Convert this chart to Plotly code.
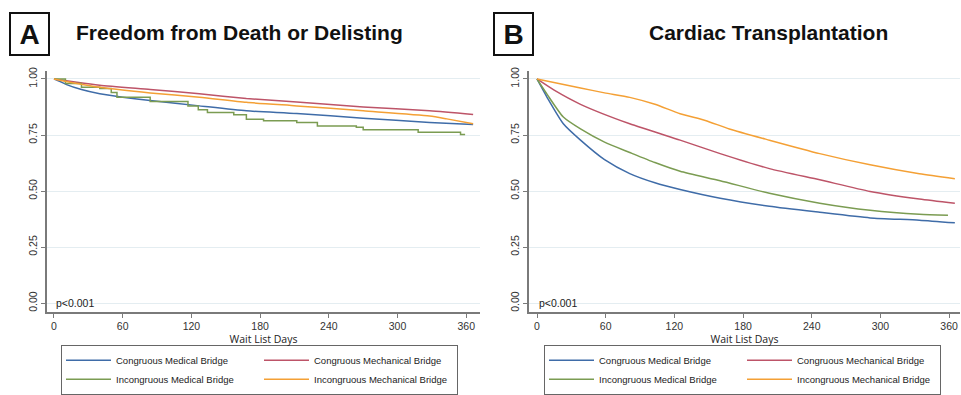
import plotly.graph_objects as go

W, H = 961, 395

# ---------------- data ----------------
series_names = ["Congruous Medical Bridge", "Congruous Mechanical Bridge",
                "Incongruous Medical Bridge", "Incongruous Mechanical Bridge"]
colors = ["#3f6ca8", "#bd5468", "#7b9c52", "#f4a035"]

# Panel A: Freedom from Death or Delisting
a_cmed_days = [0, 5, 11, 24, 40, 60, 84, 127, 168, 212, 270, 328, 366]
a_cmed_vals = [1.0, 0.99, 0.975, 0.953, 0.934, 0.919, 0.904, 0.88, 0.858, 0.846, 0.825, 0.806, 0.797]
a_cmech_days = [0, 20, 40, 84, 127, 168, 212, 270, 328, 366]
a_cmech_vals = [1.0, 0.985, 0.972, 0.953, 0.934, 0.913, 0.897, 0.875, 0.858, 0.842]
a_imed_days = [0, 10, 24, 40, 50, 55, 84, 117, 126, 134, 157, 168, 183, 212, 230, 264, 270, 318, 355, 359]
a_imed_vals = [1.0, 0.98, 0.963, 0.957, 0.94, 0.919, 0.9, 0.88, 0.863, 0.85, 0.84, 0.82, 0.814, 0.806, 0.79, 0.785, 0.773, 0.762, 0.752, 0.752]
a_imech_days = [0, 20, 40, 84, 127, 168, 212, 270, 328, 343, 366]
a_imech_vals = [1.0, 0.98, 0.963, 0.938, 0.919, 0.896, 0.88, 0.858, 0.835, 0.822, 0.80]

# Panel B: Cardiac Transplantation
b_cmed_days = [0, 9, 23, 38, 59, 81, 103, 125, 160, 203, 247, 291, 334, 365]
b_cmed_vals = [1.0, 0.916, 0.80, 0.727, 0.64, 0.578, 0.537, 0.507, 0.468, 0.432, 0.405, 0.38, 0.37, 0.358]
b_cmech_days = [0, 15, 38, 81, 125, 160, 203, 247, 291, 334, 365]
b_cmech_vals = [1.0, 0.95, 0.887, 0.80, 0.727, 0.667, 0.60, 0.55, 0.498, 0.464, 0.445]
b_imed_days = [0, 9, 23, 38, 59, 81, 103, 125, 160, 203, 247, 291, 334, 359]
b_imed_vals = [1.0, 0.93, 0.83, 0.777, 0.718, 0.672, 0.627, 0.588, 0.546, 0.49, 0.446, 0.414, 0.396, 0.392]
b_imech_days = [0, 38, 59, 81, 103, 125, 147, 168, 203, 247, 291, 334, 365]
b_imech_vals = [1.0, 0.96, 0.938, 0.918, 0.887, 0.845, 0.815, 0.777, 0.727, 0.667, 0.617, 0.577, 0.555]

x_ticks = [0, 60, 120, 180, 240, 300, 360]
y_ticks = [0.0, 0.25, 0.5, 0.75, 1.0]
y_ticklabels = ["0.00", "0.25", "0.50", "0.75", "1.00"]
panel_titles = ["Freedom from Death or Delisting", "Cardiac Transplantation"]
panel_letters = ["A", "B"]
x_title = "Wait List Days"
p_text = "p<0.001"

# ---------------- figure ----------------
fig = go.Figure()

def px(x):
    return x / W

def py(y):
    return 1 - y / H

panelA = [(a_cmed_days, a_cmed_vals, "spline"), (a_cmech_days, a_cmech_vals, "spline"),
          (a_imed_days, a_imed_vals, "hv"), (a_imech_days, a_imech_vals, "spline")]
panelB = [(b_cmed_days, b_cmed_vals, "spline"), (b_cmech_days, b_cmech_vals, "spline"),
          (b_imed_days, b_imed_vals, "spline"), (b_imech_days, b_imech_vals, "spline")]

groups = ["g1", "g2", "g1", "g2"]
for pi, (panel, xa, ya, leg) in enumerate([(panelA, "x", "y", "legend"), (panelB, "x2", "y2", "legend2")]):
    for i, (d, v, shape) in enumerate(panel):
        line = dict(color=colors[i], width=1.5, shape=shape)
        if shape == "spline":
            line["smoothing"] = 0.6
        fig.add_trace(go.Scatter(
            x=d, y=v, mode="lines", name=series_names[i],
            line=line, xaxis=xa, yaxis=ya, legend=leg,
            legendgroup=f"{groups[i]}_{pi}", showlegend=True,
        ))

dom_x = [[px(47), px(480)], [px(529), px(960)]]
dom_y = [py(312), py(68)]
x_ranges = [[-6.1, 372], [-7, 369.5]]

axis_common = dict(showline=True, linecolor="#7a7a7a", linewidth=1.5, ticks="outside",
                   ticklen=4, tickcolor="#7a7a7a", tickwidth=1.2,
                   tickfont=dict(family="Liberation Sans, Arial", size=10.5, color="#333"),
                   zeroline=False)

fig.update_layout(
    xaxis=dict(domain=dom_x[0], range=x_ranges[0], tickvals=x_ticks, showgrid=False,
               anchor="y", title=dict(text=x_title, font=dict(size=10.5, color="#222"), standoff=2),
               **axis_common),
    yaxis=dict(domain=dom_y, range=[-0.04, 1.035], tickvals=y_ticks, ticktext=y_ticklabels,
               tickangle=-90, showgrid=True, gridcolor="#e4edf1", gridwidth=1, anchor="x",
               **axis_common),
    xaxis2=dict(domain=dom_x[1], range=x_ranges[1], tickvals=x_ticks, showgrid=False,
                anchor="y2", title=dict(text=x_title, font=dict(size=10.5, color="#222"), standoff=2),
                **axis_common),
    yaxis2=dict(domain=dom_y, range=[-0.04, 1.035], tickvals=y_ticks, ticktext=y_ticklabels,
                tickangle=-90, showgrid=True, gridcolor="#e4edf1", gridwidth=1, anchor="x2",
                **axis_common),
)

legend_common = dict(orientation="h", traceorder="grouped", xanchor="left", yanchor="top",
                     bordercolor="#666", borderwidth=1, bgcolor="white",
                     font=dict(family="Liberation Sans, Arial", size=9.5, color="#222"),
                     tracegroupgap=0, itemwidth=45, entrywidth=138,
                     itemclick=False, itemdoubleclick=False)
fig.update_layout(
    legend=dict(x=px(61), y=py(345), **legend_common),
    legend2=dict(x=px(544), y=py(345), **legend_common),
)

annotations = []
title_centers = [239, 768]
letter_centers = [29.5, 513]
for i in range(2):
    annotations.append(dict(text=f"<b>{panel_titles[i]}</b>", x=px(title_centers[i]), y=py(29),
                            xref="paper", yref="paper", showarrow=False,
                            font=dict(family="Liberation Sans, Arial", size=21, color="#111"),
                            xanchor="center", yanchor="middle"))
    annotations.append(dict(text=f"<b>{panel_letters[i]}</b>", x=px(letter_centers[i]), y=py(30),
                            xref="paper", yref="paper", showarrow=False,
                            font=dict(family="Liberation Sans, Arial", size=28, color="#111"),
                            xanchor="center", yanchor="middle",
                            width=37, height=40, bordercolor="#111", borderwidth=2, borderpad=0))
    annotations.append(dict(text=p_text, x=0, y=0, xref=["x", "x2"][i], yref=["y", "y2"][i],
                            showarrow=False, xanchor="left", yanchor="middle",
                            font=dict(family="Liberation Sans, Arial", size=10.5, color="#222")))
fig.update_layout(annotations=annotations)

fig.update_layout(width=W, height=H, margin=dict(l=0, r=0, t=0, b=0),
                  paper_bgcolor="white", plot_bgcolor="white", showlegend=True)

fig.write_html("out.html", config={"displayModeBar": False},
               post_script="document.body.style.margin='0';")
